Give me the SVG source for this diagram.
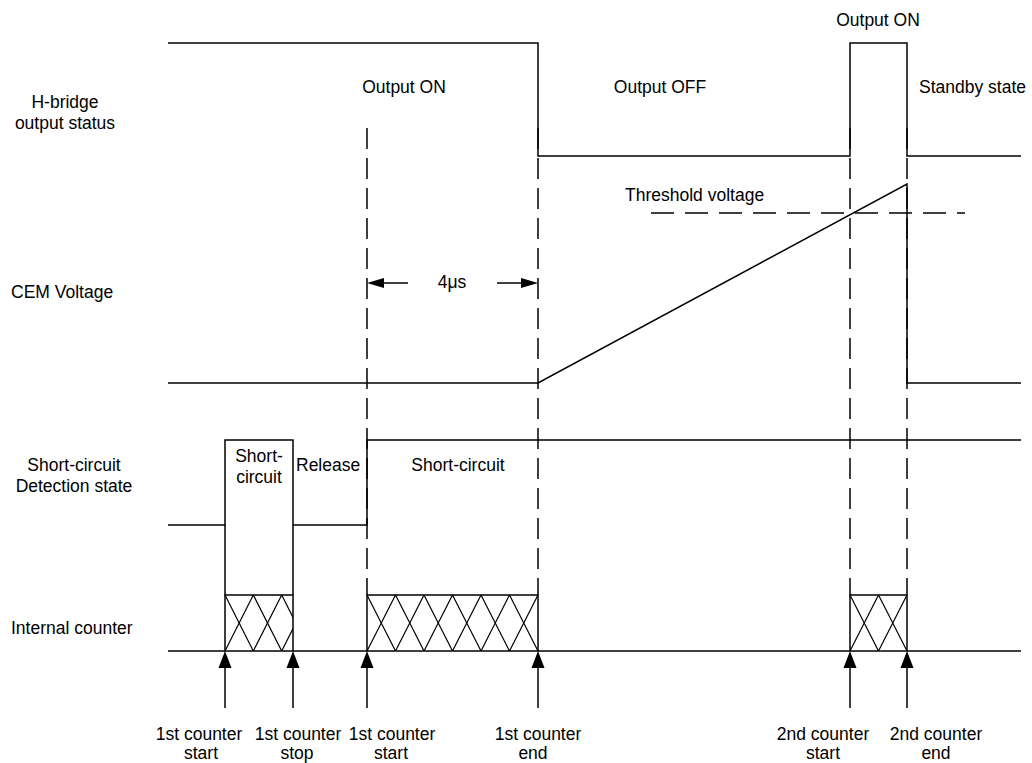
<svg xmlns="http://www.w3.org/2000/svg" width="1032" height="763" viewBox="0 0 1032 763">
<style>
text{font-family:"Liberation Sans",Arial,sans-serif;font-size:17.5px;fill:#000}
.c{text-anchor:middle}
.w{fill:none;stroke:#000;stroke-width:1.5}
.d{fill:none;stroke:#000;stroke-width:1.5;stroke-dasharray:21 9}
.z{fill:none;stroke:#000;stroke-width:1.2}
.ah{fill:#000}
</style>
<defs>
<clipPath id="cb1"><rect x="225" y="595" width="68" height="56"/></clipPath>
<clipPath id="cb2"><rect x="367" y="595" width="171" height="56"/></clipPath>
<clipPath id="cb3"><rect x="850" y="595" width="57" height="56"/></clipPath>
</defs>
<rect width="1032" height="763" fill="#fff"/>

<g id="labels">
<text class="c" x="65" y="108">H-bridge</text>
<text class="c" x="65" y="129">output status</text>
<text x="11" y="298">CEM Voltage</text>
<text class="c" x="74" y="471">Short-circuit</text>
<text class="c" x="74" y="492">Detection state</text>
<text x="11" y="634">Internal counter</text>
</g>

<g id="hbridge">
<polyline class="w" points="168,43 538,43 538,156 850,156 850,43 907,43 907,156 1021,156"/>
<text class="c" x="404" y="93">Output ON</text>
<text class="c" x="660" y="93">Output OFF</text>
<text class="c" x="878" y="26">Output ON</text>
<text x="919" y="93">Standby state</text>
</g>

<g id="cem">
<polyline class="w" points="168,383 538,383 907,184 907,383 1021,383"/>
<line class="d" x1="651" y1="213" x2="965" y2="213" style="stroke-dasharray:23 11"/>
<text x="625" y="201">Threshold voltage</text>
</g>

<g id="detection">
<polyline class="w" points="168,525 225,525 225,440 293,440 293,525 367,525 367,440 1021,440"/>
<text class="c" x="259" y="462">Short-</text>
<text class="c" x="259" y="483">circuit</text>
<text x="296" y="471">Release</text>
<text class="c" x="458" y="471">Short-circuit</text>
</g>

<g id="counter">
<polyline class="w" points="168,651 225,651"/>
<polyline class="w" points="293,651 367,651"/>
<polyline class="w" points="538,651 850,651"/>
<polyline class="w" points="907,651 1021,651"/>
<rect class="w" x="225" y="595" width="68" height="56"/>
<rect class="w" x="367" y="595" width="171" height="56"/>
<rect class="w" x="850" y="595" width="57" height="56"/>
<g clip-path="url(#cb1)">
<polyline class="z" points="225,595 253.3,651 281.7,595 310,651"/>
<polyline class="z" points="225,651 253.3,595 281.7,651 310,595"/>
</g>
<g clip-path="url(#cb2)">
<polyline class="z" points="367,595 395.5,651 424,595 452.5,651 481,595 509.5,651 538,595"/>
<polyline class="z" points="367,651 395.5,595 424,651 452.5,595 481,651 509.5,595 538,651"/>
</g>
<g clip-path="url(#cb3)">
<polyline class="z" points="850,595 878.5,651 907,595"/>
<polyline class="z" points="850,651 878.5,595 907,651"/>
</g>
</g>

<g id="connectors">
<line class="w" x1="225" y1="525" x2="225" y2="595"/>
<line class="w" x1="293" y1="525" x2="293" y2="595"/>
<line class="d" x1="367" y1="128" x2="367" y2="595"/>
<line class="d" x1="538" y1="128" x2="538" y2="595"/>
<line class="d" x1="850" y1="128" x2="850" y2="595"/>
<line class="d" x1="907" y1="128" x2="907" y2="595"/>
<line class="w" x1="380" y1="283" x2="408" y2="283"/>
<polygon class="ah" points="367,283 384,278 384,288"/>
<line class="w" x1="497" y1="283" x2="524" y2="283"/>
<polygon class="ah" points="538,283 521,278 521,288"/>
<text class="c" x="452" y="288">4μs</text>
<line class="w" x1="225" y1="665" x2="225" y2="708"/>
<polygon class="ah" points="225,651 218.5,668 231.5,668"/>
<line class="w" x1="293" y1="665" x2="293" y2="708"/>
<polygon class="ah" points="293,651 286.5,668 299.5,668"/>
<line class="w" x1="367" y1="665" x2="367" y2="708"/>
<polygon class="ah" points="367,651 360.5,668 373.5,668"/>
<line class="w" x1="538" y1="665" x2="538" y2="708"/>
<polygon class="ah" points="538,651 531.5,668 544.5,668"/>
<line class="w" x1="850" y1="665" x2="850" y2="708"/>
<polygon class="ah" points="850,651 843.5,668 856.5,668"/>
<line class="w" x1="907" y1="665" x2="907" y2="708"/>
<polygon class="ah" points="907,651 900.5,668 913.5,668"/>
</g>

<g id="events">
<text class="c" x="199" y="740">1st counter</text>
<text class="c" x="201" y="759">start</text>
<text class="c" x="298" y="740">1st counter</text>
<text class="c" x="297" y="759">stop</text>
<text class="c" x="392" y="740">1st counter</text>
<text class="c" x="391" y="759">start</text>
<text class="c" x="538" y="740">1st counter</text>
<text class="c" x="533" y="759">end</text>
<text class="c" x="823" y="740">2nd counter</text>
<text class="c" x="823" y="759">start</text>
<text class="c" x="936" y="740">2nd counter</text>
<text class="c" x="936" y="759">end</text>
</g>
</svg>
